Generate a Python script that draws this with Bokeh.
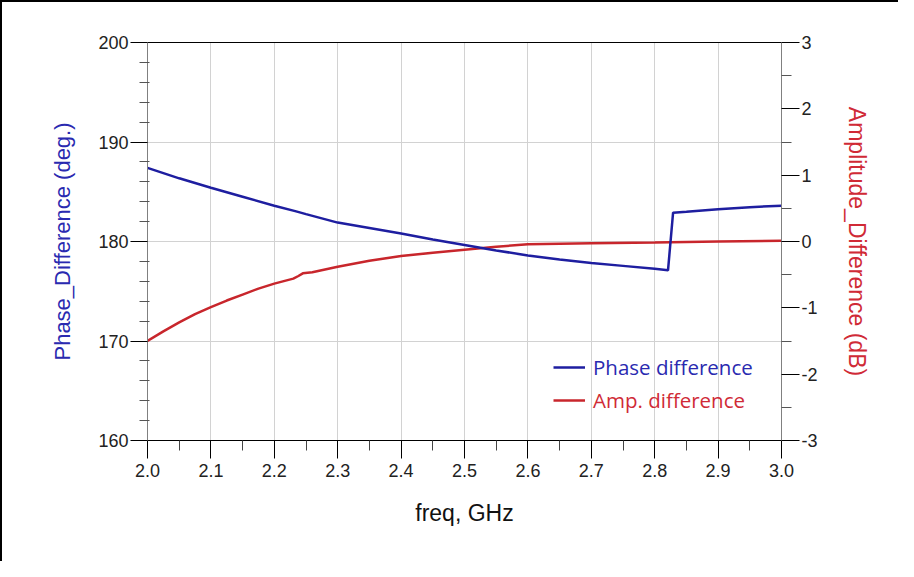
from bokeh.plotting import figure
from bokeh.models import Range1d, LinearAxis, FixedTicker, Legend, LegendItem
from bokeh.embed import file_html
from bokeh.resources import INLINE

# ---- data ----
freq_phase = [2.0, 2.05, 2.1, 2.15, 2.2, 2.233, 2.25, 2.3, 2.35, 2.4, 2.45, 2.5,
              2.55, 2.6, 2.65, 2.7, 2.75, 2.8, 2.821, 2.829, 2.85, 2.9, 2.95, 3.0]
phase_diff = [187.4, 186.35, 185.4, 184.5, 183.6, 183.05, 182.75, 181.9, 181.35, 180.8,
              180.2, 179.65, 179.1, 178.6, 178.2, 177.85, 177.55, 177.25, 177.1,
              182.9, 183.0, 183.25, 183.45, 183.6]

freq_amp = [2.0, 2.025, 2.05, 2.075, 2.1, 2.125, 2.15, 2.175, 2.2, 2.23, 2.238, 2.245,
            2.26, 2.3, 2.35, 2.4, 2.45, 2.5, 2.55, 2.6, 2.7, 2.8, 2.9, 3.0]
amp_diff = [-1.5, -1.355, -1.22, -1.095, -0.99, -0.89, -0.8, -0.71, -0.635, -0.56, -0.52,
            -0.48, -0.465, -0.38, -0.29, -0.22, -0.17, -0.125, -0.08, -0.04, -0.025,
            -0.015, 0.0, 0.01]

x_ticks = [2.0, 2.1, 2.2, 2.3, 2.4, 2.5, 2.6, 2.7, 2.8, 2.9, 3.0]
x_tick_labels = ["2.0", "2.1", "2.2", "2.3", "2.4", "2.5", "2.6", "2.7", "2.8", "2.9", "3.0"]
x_minor = [2.05, 2.15, 2.25, 2.35, 2.45, 2.55, 2.65, 2.75, 2.85, 2.95]

phase_ticks = [160, 170, 180, 190, 200]
phase_tick_labels = ["160", "170", "180", "190", "200"]
phase_minor = [162, 164, 166, 168, 172, 174, 176, 178, 182, 184, 186, 188, 192, 194, 196, 198]

amp_ticks = [-3, -2, -1, 0, 1, 2, 3]
amp_tick_labels = ["-3", "-2", "-1", "0", "1", "2", "3"]
amp_minor = [-2.5, -1.5, -0.5, 0.5, 1.5, 2.5]

labels = ["Phase difference", "Amp. difference"]
axis_titles = ["freq, GHz", "Phase_Difference (deg.)", "Amplitude_Difference (dB)"]

BLUE_LINE = "#1e1ea0"
RED_LINE = "#c8262c"
BLUE_TXT = "#2a2ab0"
RED_TXT = "#d02a36"
FONT = "Liberation Sans"

p = figure(frame_width=634, frame_height=398,
           min_border_left=145, min_border_top=40, min_border_right=117, min_border_bottom=121,
           x_range=Range1d(2.0, 3.0), y_range=Range1d(160, 200),
           output_backend="svg", toolbar_location=None,
           background_fill_color="white", border_fill_color="white")
p.extra_y_ranges = {"amp": Range1d(-3, 3)}
p.outline_line_color = None
p.styles = {"border-left": "2px solid black", "border-top": "2px solid black"}

# grids
p.xgrid.ticker = FixedTicker(ticks=x_ticks)
p.ygrid.ticker = FixedTicker(ticks=phase_ticks)
p.xgrid.grid_line_color = "#d2d2d2"
p.ygrid.grid_line_color = "#d2d2d2"

# bottom axis
xa = p.xaxis[0]
xa.ticker = FixedTicker(ticks=x_ticks, minor_ticks=x_minor)
xa.major_label_overrides = dict(zip(x_ticks, x_tick_labels))
xa.axis_line_color = "black"
xa.major_tick_line_color = "black"
xa.minor_tick_line_color = "#444444"
xa.major_tick_in = 0
xa.major_tick_out = 18
xa.minor_tick_in = 0
xa.minor_tick_out = 10
xa.major_label_standoff = 5
xa.major_label_text_font = FONT
xa.major_label_text_font_size = "18px"
xa.major_label_text_color = "#222222"
xa.axis_label = axis_titles[0]
xa.axis_label_text_font = FONT
xa.axis_label_text_font_style = "normal"
xa.axis_label_text_font_size = "23px"
xa.axis_label_text_color = "#111111"
xa.axis_label_standoff = 20

# left axis
ya = p.yaxis[0]
ya.ticker = FixedTicker(ticks=phase_ticks, minor_ticks=phase_minor)
ya.major_label_overrides = dict(zip(phase_ticks, phase_tick_labels))
ya.axis_line_color = "#808080"
ya.major_tick_line_color = "black"
ya.minor_tick_line_color = "#555555"
ya.major_tick_in = 0
ya.major_tick_out = 17
ya.minor_tick_in = 2
ya.minor_tick_out = 8
ya.major_label_standoff = 2
ya.major_label_text_font = FONT
ya.major_label_text_font_size = "18px"
ya.major_label_text_color = "#222222"
ya.axis_label = axis_titles[1]
ya.axis_label_text_font = FONT
ya.axis_label_text_font_style = "normal"
ya.axis_label_text_font_size = "22px"
ya.axis_label_text_color = BLUE_TXT
ya.axis_label_standoff = 20

# right axis
ra = LinearAxis(y_range_name="amp",
                ticker=FixedTicker(ticks=amp_ticks, minor_ticks=amp_minor))
ra.major_label_overrides = dict(zip(amp_ticks, amp_tick_labels))
ra.axis_line_color = "#808080"
ra.major_tick_line_color = "black"
ra.minor_tick_line_color = "#555555"
ra.major_tick_in = 0
ra.major_tick_out = 18
ra.minor_tick_in = 0
ra.minor_tick_out = 10
ra.major_label_standoff = 2
ra.major_label_text_font = FONT
ra.major_label_text_font_size = "18px"
ra.major_label_text_color = "#222222"
ra.axis_label = axis_titles[2]
ra.axis_label_text_font = FONT
ra.axis_label_text_font_style = "normal"
ra.axis_label_text_font_size = "23px"
ra.axis_label_text_color = RED_TXT
ra.axis_label_standoff = 23
p.add_layout(ra, "right")

# top frame line
ta = LinearAxis(ticker=FixedTicker(ticks=[]))
ta.axis_line_color = "black"
ta.major_tick_line_color = None
ta.minor_tick_line_color = None
ta.major_label_text_font_size = "0px"
p.add_layout(ta, "above")

# data lines
r_amp = p.line(freq_amp, amp_diff, y_range_name="amp", line_color=RED_LINE, line_width=2.5)
r_phase = p.line(freq_phase, phase_diff, line_color=BLUE_LINE, line_width=2.5)


def make_legend(label, renderer, color, loc):
    lg = Legend(items=[LegendItem(label=label, renderers=[renderer])], location=loc)
    lg.glyph_width = 32
    lg.glyph_height = 20
    lg.label_height = 20
    lg.label_standoff = 8
    lg.padding = 0
    lg.margin = 0
    lg.spacing = 0
    lg.border_line_color = None
    lg.background_fill_alpha = 0
    lg.label_text_font = "Open Sans"
    lg.label_text_font_size = "20.5px"
    lg.label_text_color = color
    return lg


p.add_layout(make_legend(labels[0], r_phase, BLUE_TXT, (406, 59)))
p.add_layout(make_legend(labels[1], r_amp, RED_TXT, (406, 26)))

open("out.html", "w").write(file_html(p, INLINE))
